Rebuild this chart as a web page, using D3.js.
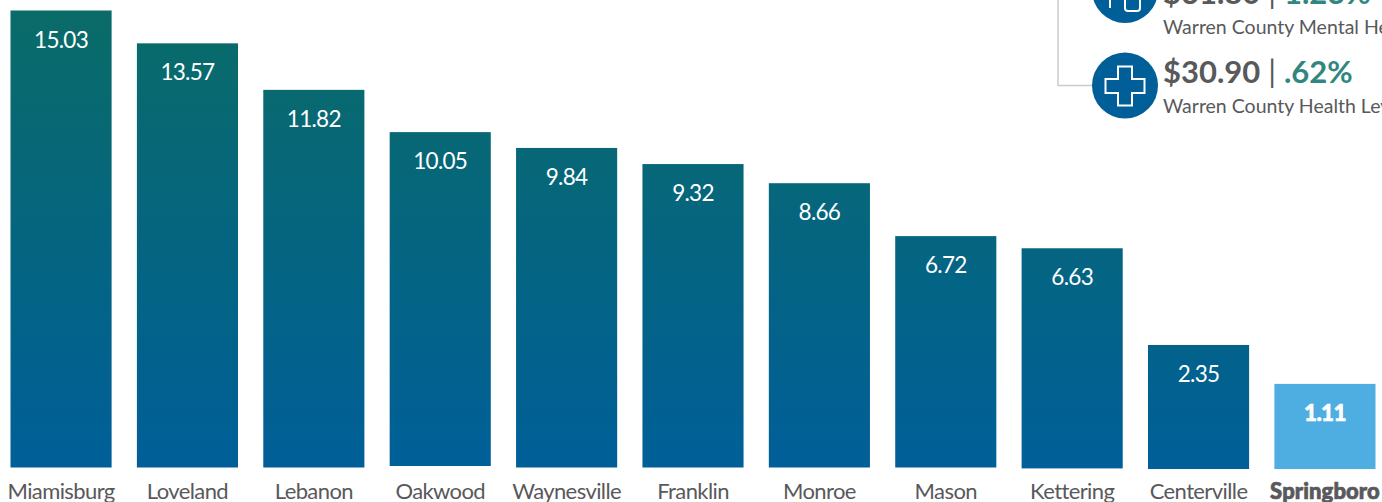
<!DOCTYPE html>
<html>
<head>
<meta charset="utf-8">
<script src="https://cdn.jsdelivr.net/npm/d3@7"></script>
<style>
  html, body { margin: 0; padding: 0; background: #fff; overflow: hidden; }
  svg { display: block; font-family: Lato, sans-serif; }
</style>
</head>
<body>
<div id="chart"></div>
<script>
const cities = ["Miamisburg", "Loveland", "Lebanon", "Oakwood", "Waynesville", "Franklin", "Monroe", "Mason", "Kettering", "Centerville", "Springboro"];
const millage = [15.03, 13.57, 11.82, 10.05, 9.84, 9.32, 8.66, 6.72, 6.63, 2.35, 1.11];
// the bars in the picture are not proportional to their labels, so the drawn tops are kept apart
const barTops = [15.03, 13.95, 12.42, 11.03, 10.51, 9.98, 9.35, 7.61, 7.21, 4.03, 2.75];
const barBases = [0, 0, 0, 0.05, 0, 0, 0, 0, -0.03, -0.05, -0.05];
const highlight = "Springboro";

const levyAmounts = ["$61.80", "$30.90"];
const levyShares = ["1.23%", ".62%"];
const levyNames = ["Warren County Mental Health Levy", "Warren County Health Levy"];

const width = 1382;
const height = 502;
const marginTop = 10.5;
const marginBottom = 34.5;
const marginLeft = 10.5;
const plotRight = 1375.5;
const barGap = 0.2;

const x = d3.scaleBand()
    .domain(cities)
    .range([marginLeft, plotRight])
    .paddingInner(barGap)
    .paddingOuter(0);

const y = d3.scaleLinear()
    .domain([0, 15.03])
    .range([height - marginBottom, marginTop]);

const svg = d3.select("#chart").append("svg")
    .attr("width", width)
    .attr("height", height)
    .attr("viewBox", [0, 0, width, height]);

const grad = svg.append("defs").append("linearGradient")
    .attr("id", "barFill")
    .attr("gradientUnits", "userSpaceOnUse")
    .attr("x1", 0).attr("x2", 0)
    .attr("y1", y(15.03)).attr("y2", y(0));
grad.append("stop").attr("offset", 0).attr("stop-color", "#0a6b68");
grad.append("stop").attr("offset", 1).attr("stop-color", "#005f98");

const rows = cities.map((city, i) => ({city, value: millage[i], top: barTops[i], base: barBases[i]}));

svg.append("g")
  .selectAll("rect")
  .data(rows)
  .join("rect")
    .attr("x", d => x(d.city))
    .attr("y", d => y(d.top))
    .attr("width", x.bandwidth())
    .attr("height", d => y(d.base) - y(d.top))
    .attr("fill", d => d.city === highlight ? "#4eaee2" : "url(#barFill)");

svg.append("g")
    .attr("text-anchor", "middle")
    .attr("fill", "#fff")
    .style("font-size", "22.5px")
    .style("letter-spacing", "-0.7px")
  .selectAll("text")
  .data(rows)
  .join("text")
    .attr("x", d => x(d.city) + x.bandwidth() / 2)
    .attr("y", d => y(d.top) + 37)
    .style("font-weight", d => d.city === highlight ? 900 : 400)
    .style("stroke", d => d.city === highlight ? "#fff" : "none")
    .style("stroke-width", 0.6)
    .text(d => d3.format(".2f")(d.value));

const axis = svg.append("g")
    .attr("transform", `translate(0,${height - 3})`)
    .call(d3.axisBottom(x).tickSize(0).tickPadding(0));
axis.select(".domain").remove();
axis.selectAll(".tick text")
    .attr("y", 0).attr("dy", 0)
    .attr("fill", "#58595b")
    .style("font-family", "Lato, sans-serif")
    .style("font-size", "22px")
    .style("letter-spacing", d => d === highlight ? "0.1px" : "-0.6px")
    .style("font-weight", d => d === highlight ? 900 : 400)
    .style("stroke", d => d === highlight ? "#58595b" : "none")
    .style("stroke-width", 0.7);

// levy callouts, cut off by the page edge as in the picture
const circleY = d3.scalePoint().domain(levyNames).range([-10, 85.5]);
const amountY = d3.scalePoint().domain(levyNames).range([4, 83]);
const iconX = 1125;
const textX = 1163;

svg.append("path")
    .attr("d", d3.line()([[1058, 0], [1058, circleY(levyNames[1])], [iconX, circleY(levyNames[1])]]))
    .attr("fill", "none")
    .attr("stroke", "#cccccc")
    .attr("stroke-width", 1.5);

svg.append("g")
  .selectAll("circle")
  .data(levyNames)
  .join("circle")
    .attr("cx", iconX)
    .attr("cy", d => circleY(d))
    .attr("r", 33)
    .attr("fill", "#005f98");

const amount = svg.append("g")
  .selectAll("text")
  .data(levyNames)
  .join("text")
    .attr("x", textX)
    .attr("y", d => amountY(d))
    .style("font-size", "31px")
    .style("font-weight", 700);
amount.append("tspan").attr("fill", "#58595b").text((d, i) => levyAmounts[i]);
amount.append("tspan").attr("fill", "#58595b").style("font-weight", 400).text(" | ");
amount.append("tspan").attr("fill", "#31877f").text((d, i) => levyShares[i]);

svg.append("g")
  .selectAll("text")
  .data(levyNames)
  .join("text")
    .attr("x", textX)
    .attr("y", d => amountY(d) + 29.5)
    .attr("fill", "#58595b")
    .style("font-size", "19.5px")
    .text(d => d);

// cross icon on the health levy
svg.append("path")
    .attr("transform", `translate(${iconX},${circleY(levyNames[1]) + 0.5})`)
    .attr("d", d3.line()([[-7,-19.5],[7,-19.5],[7,-7],[19.5,-7],[19.5,7],[7,7],[7,19.5],[-7,19.5],[-7,7],[-19.5,7],[-19.5,-7],[-7,-7]]) + "Z")
    .attr("fill", "none")
    .attr("stroke", "#fff")
    .attr("stroke-width", 2);

// figure outline on the mental health levy, only its lower edge shows
svg.append("path")
    .attr("transform", `translate(${iconX},${circleY(levyNames[0])})`)
    .attr("d", "M-15,10V18M0,10V18Q0,21 3,21H12Q15,21 15,18V10")
    .attr("fill", "none")
    .attr("stroke", "#fff")
    .attr("stroke-width", 2);
</script>
</body>
</html>
